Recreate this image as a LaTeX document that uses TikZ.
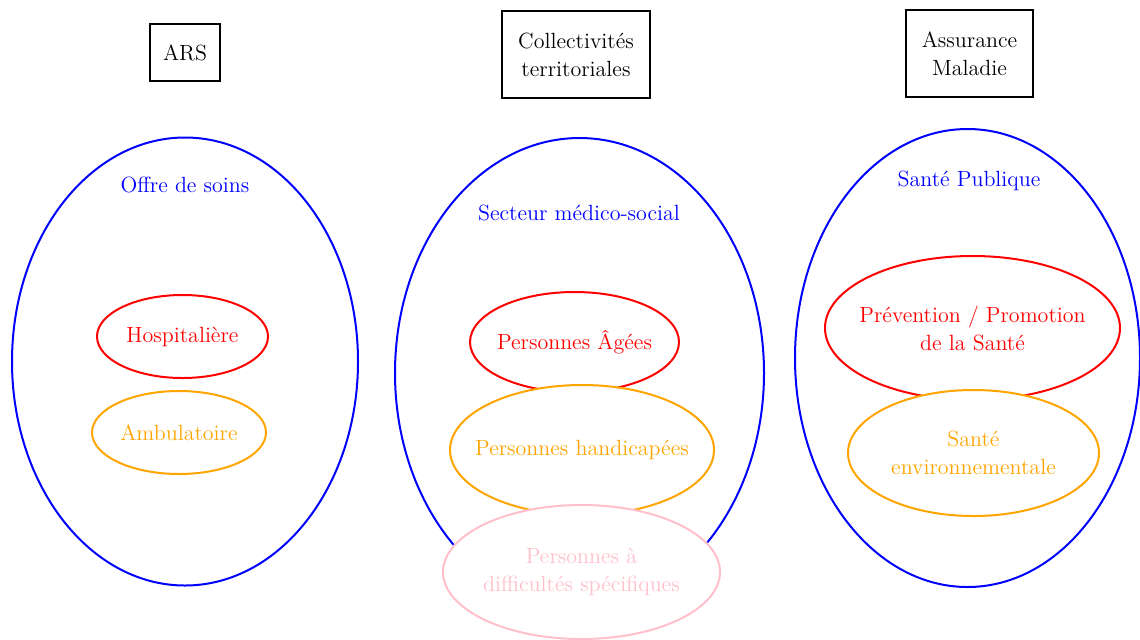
\documentclass[tikz,border=0pt]{standalone}
\usetikzlibrary{shapes.geometric}
\definecolor{cblue}{RGB}{0,0,255}
\definecolor{cred}{RGB}{255,0,0}
\definecolor{corange}{RGB}{255,165,0}
\definecolor{cpink}{RGB}{255,192,203}
\begin{document}
\begin{tikzpicture}[x=0.5pt,y=-0.5pt,
  txt/.style={font=\fontsize{11}{14}\selectfont, align=center},
  headbox/.style={txt, draw=black, line width=1.4pt, fill=white, inner sep=0pt},
  bigell/.style={ellipse, draw=cblue, line width=1pt, fill=white, inner sep=0pt},
  subell/.style={ellipse, line width=1pt, fill=white, inner sep=0pt},
  redell/.style={subell, draw=cred},
  orangeell/.style={subell, draw=corange},
  pinkell/.style={subell, draw=cpink},
  redtxt/.style={txt, text=cred},
  orangetxt/.style={txt, text=corange},
  pinktxt/.style={txt, text=cpink},
  biglabel/.style={txt, text=cblue}]
\useasboundingbox (0,0) rectangle (1140,639);
% header boxes
\node[headbox, minimum width=35pt, minimum height=28.5pt] (ars) at (185,52.5) {ARS};
\node[headbox, minimum width=74pt, minimum height=43.5pt] (coll) at (576,54.5) {Collectivités\\territoriales};
\node[headbox, minimum width=63.5pt, minimum height=43.5pt] (am) at (969.5,53.5) {Assurance\\Maladie};
% big ellipses
\node[bigell, minimum width=173pt, minimum height=224pt] (e1) at (185,361.5) {};
\node[bigell, minimum width=184.5pt, minimum height=235pt] (e2) at (579.5,373) {};
\node[bigell, minimum width=172.5pt, minimum height=229pt] (e3) at (967.5,358) {};
\node[biglabel] (l1) at (185,185) {Offre de soins};
\node[biglabel] (l2) at (579,213) {Secteur médico-social};
\node[biglabel] (l3) at (969,181) {Santé Publique};
% column 1
\node[redell, minimum width=85.5pt, minimum height=41.5pt] (hosp) at (182.5,336.5) {};
\node[redtxt] (hospt) at (hosp.center) {Hospitalière};
\node[orangeell, minimum width=87pt, minimum height=41.5pt] (amb) at (179,432.5) {};
\node[orangetxt] (ambt) at (amb.center) {Ambulatoire};
% column 2
\node[redell, minimum width=104.5pt, minimum height=50pt] (pa) at (574.5,342) {};
\node[redtxt] (pat) at (pa.center) {Personnes Âgées};
\node[orangeell, minimum width=132pt, minimum height=65pt] (ph) at (582,450) {};
\node[orangetxt] (pht) at (ph.center) {Personnes handicapées};
\node[pinkell, minimum width=138.5pt, minimum height=67pt] (pd) at (581.5,572) {};
\node[pinktxt] (pdt) at (pd.center) {Personnes à\\difficultés spécifiques};
% column 3
\node[redell, minimum width=147.5pt, minimum height=72pt] (prev) at (972.5,328) {};
\node[redtxt] (prevt) at (prev.center) {Prévention / Promotion\\de la Santé};
\node[orangeell, minimum width=125.5pt, minimum height=63pt] (env) at (973.5,453) {};
\node[orangetxt] (envt) at (env.center) {Santé\\environnementale};
\end{tikzpicture}
\end{document}
